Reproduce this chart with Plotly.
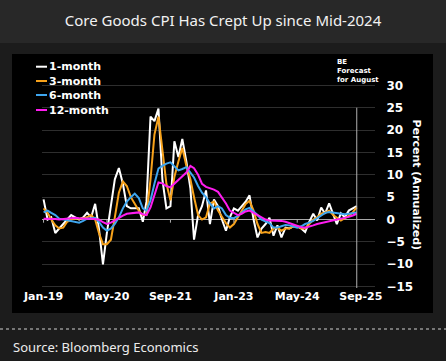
import pandas as pd
import plotly.graph_objects as go

# ---------------- data ----------------
dates = pd.date_range("2019-01-01", periods=80, freq="MS").strftime("%Y-%m-%d").tolist()

one_month = [4.5, 0, 0.5, -3, -2, -1, 0, 1, 0.5, 0, 0.5, 1.5,
             0.5, 3.5, -2, -10, -3, 3, 9, 11.5, 8, 3, 2.5, 2.5,
             2.5, -0.5, 4, 23, 22, 24.8, 9, 2.5, 3, 17.5, 14, 18,
             13, 7, -4.5, 1, 3, 6.5, -1, 4.5, 3, 0, -2.5, 0.5,
             2.5, 2, 3, 4, 5.4, 0, -4, -2, -1, 0.4, -3.6, -1.3,
             -4, -1.8, -2, -1.5, -1.5, -2, -2.8, -0.5, 1.3, -0.2, 2.7, 1.3,
             3.6, 1.4, -1, 1.4, 0.5, 2, 2.5, 3]
three_month = [2.5, 1.5, 0, -1.3, -2, -1.8, -0.5, 0, 0.3, 0.2, 0.3, 0.5,
               1, 0, -3, -5.5, -5.5, -4.5, 0.5, 6, 8.5, 7.5, 5, 3.5,
               2, 1, 1, 9, 19, 23, 15, 8, 4.3, 9.5, 13, 16,
               12, 9, 5, 1, 0, 0.5, 3.6, 4, 2, 0.5, -0.8, -1.8,
               -1, 0.5, 2, 3.5, 4.2, 2, -1, -3, -2.8, -3, -2, -1.8,
               -2.5, -2, -2, -1.5, -1.5, -2, -2, -1, 0, 0.5, 1.3, 1.6,
               2, 1, 0.5, -0.2, 0.3, 0.8, 1.6, 2.7]
six_month = [1.6, 2, 1.5, 1, 0.2, 0, -0.2, -0.3, -0.5, -0.7, -0.3, 0.2,
             0.3, 0.4, -0.5, -1.8, -2.5, -2, -1, 0.5, 2.5, 4, 5, 5.8,
             4.8, 2.5, 2, 4.3, 8, 11.4, 12, 12.5, 12.8, 12, 11, 11.3,
             11.7, 10.5, 9.4, 7.5, 6, 5, 3.6, 2.5, 3, 2.5, 1, 0.4,
             0.3, 0.8, 1.5, 2.3, 2.6, 1.8, 1, 0, -0.5, -0.8, -1.8, -1.8,
             -1.5, -1.2, -1.3, -1.6, -1.8, -1.5, -1, -0.7, -0.3, 0.3, 1, 1.5,
             1.7, 1.6, 1.4, 1.3, 1.2, 1.3, 1.5, 1.6]
twelve_month = [0.2, 0.2, 0.2, 0.1, 0, 0.1, 0.2, 0.3, 0.4, 0.3, 0.2, 0.2,
                0.2, 0.1, 0, -0.6, -1, -0.7, -0.2, 0.5, 0.9, 1.3, 1.4, 1.5,
                1.6, 1.2, 1, 2.7, 5.5, 8.3, 8.1, 7.5, 7.2, 8, 8.8, 9.7,
                10.5, 12, 11.5, 10, 8, 7.3, 7, 6.7, 6.2, 5, 3.6, 2,
                1.4, 1, 1.3, 1.8, 2, 1.5, 1, 0.5, 0, -0.2, -0.2, -0.2,
                -0.3, -0.5, -0.8, -1, -1.3, -1.7, -1.8, -1.6, -1.3, -1, -0.8, -0.7,
                -0.4, -0.2, 0, 0.2, 0.4, 0.6, 0.9, 1.3]

series_names = ["1-month", "3-month", "6-month", "12-month"]
series_colors = ["#ffffff", "#f7a21b", "#3ea6ef", "#ff1cf0"]

tick_dates = ["2019-01-01", "2020-05-01", "2021-09-01", "2023-01-01", "2024-05-01", "2025-09-01"]
tick_labels = ["Jan-19", "May-20", "Sep-21", "Jan-23", "May-24", "Sep-25"]
y_ticks = [-15, -10, -5, 0, 5, 10, 15, 20, 25, 30]

# ---------------- figure ----------------
W, H = 446, 361
L, R, T, B = 42, 71, 84, 73
pw, ph = W - L - R, H - T - B


def px(x):
    return (x - L) / pw


def py(y):
    return (H - B - y) / ph


fig = go.Figure()
for name, vals, col in zip(series_names, [one_month, three_month, six_month, twelve_month], series_colors):
    fig.add_trace(go.Scatter(x=dates, y=vals, mode="lines", name=name,
                             line=dict(color=col, width=2), showlegend=False, hoverinfo="skip"))

shapes = []
# title bar & black panel
shapes.append(dict(type="rect", xref="paper", yref="paper", x0=px(0), x1=px(W), y0=py(43), y1=py(0),
                   fillcolor="#282828", line=dict(width=0), layer="below"))
shapes.append(dict(type="rect", xref="paper", yref="paper", x0=px(12), x1=px(433), y0=py(313), y1=py(54),
                   fillcolor="#000000", line=dict(width=0), layer="below"))
# dotted separator
shapes.append(dict(type="line", xref="paper", yref="paper", x0=px(0), x1=px(W), y0=py(329), y1=py(329),
                   line=dict(color="#d0d0d0", width=1, dash="dot")))
# forecast vertical line
shapes.append(dict(type="line", xref="x", yref="y", x0=dates[-1], x1=dates[-1], y0=-15.5, y1=25,
                   line=dict(color="#b0b0b0", width=1)))
# small tick marks on zero line
for d in tick_dates[:-1]:
    shapes.append(dict(type="line", xref="x", yref="y", x0=d, x1=d, y0=0, y1=-0.7,
                       line=dict(color="#b0b0b0", width=1)))

annotations = []
# manual legend
leg_y = [66.7, 81, 95, 110]
for name, col, yy in zip(series_names, series_colors, leg_y):
    shapes.append(dict(type="line", xref="paper", yref="paper", x0=px(36), x1=px(47), y0=py(yy), y1=py(yy),
                       line=dict(color=col, width=2)))
    annotations.append(dict(xref="paper", yref="paper", x=px(47), y=py(yy), xanchor="left", yanchor="middle",
                            text=name, showarrow=False,
                            font=dict(family="DejaVu Sans", size=11, color="#ffffff", weight="bold")))

annotations.append(dict(xref="paper", yref="paper", x=px(335), y=py(70.5), xanchor="left", yanchor="middle",
                        text="BE<br>Forecast<br>for August", align="left", showarrow=False,
                        font=dict(family="DejaVu Sans", size=7, color="#ffffff", weight="bold")))
annotations.append(dict(xref="paper", yref="paper", x=px(416.5), y=py(185), xanchor="center", yanchor="middle",
                        text="Percent (Annualized)", textangle=90, showarrow=False,
                        font=dict(family="DejaVu Sans", size=11, color="#ffffff", weight="bold")))
annotations.append(dict(xref="paper", yref="paper", x=px(11), y=py(347), xanchor="left", yanchor="middle",
                        text="Source: Bloomberg Economics", showarrow=False,
                        font=dict(family="Noto Sans", size=13, color="#ececec")))

fig.update_layout(
    width=W, height=H,
    margin=dict(l=L, r=R, t=T, b=B),
    paper_bgcolor="#1c1c1c",
    plot_bgcolor="#000000",
    hovermode=False,
    title=dict(text="Core Goods CPI Has Crept Up since Mid\u20112024", x=0.5, xanchor="center", xref="container",
               y=1 - 21 / H, yanchor="middle", yref="container",
               font=dict(family="Noto Sans", size=15, color="#f2f2f2")),
    shapes=shapes,
    annotations=annotations,
    xaxis=dict(type="date", range=["2018-12-20", "2025-12-19"], tickvals=tick_dates, ticktext=tick_labels,
               showgrid=False, zeroline=False, showline=False, ticks="",
               tickfont=dict(family="DejaVu Sans", size=11, color="#ffffff", weight="bold")),
    yaxis=dict(side="right", range=[-15.3, 30.3], tickvals=y_ticks, showgrid=True, gridcolor="#2e2e2e",
               gridwidth=1, zeroline=True, zerolinecolor="#a8a8a8", zerolinewidth=1, showline=False,
               ticks="outside", ticklen=8, tickcolor="rgba(0,0,0,0)",
               tickfont=dict(family="DejaVu Sans", size=12, color="#ffffff", weight="bold")),
)

fig.write_html("out.html", config={"displayModeBar": False, "staticPlot": True},
               post_script="document.body.style.margin='0px';document.body.style.padding='0px';"
                           "document.body.style.background='#1c1c1c';document.body.style.overflow='hidden';")
